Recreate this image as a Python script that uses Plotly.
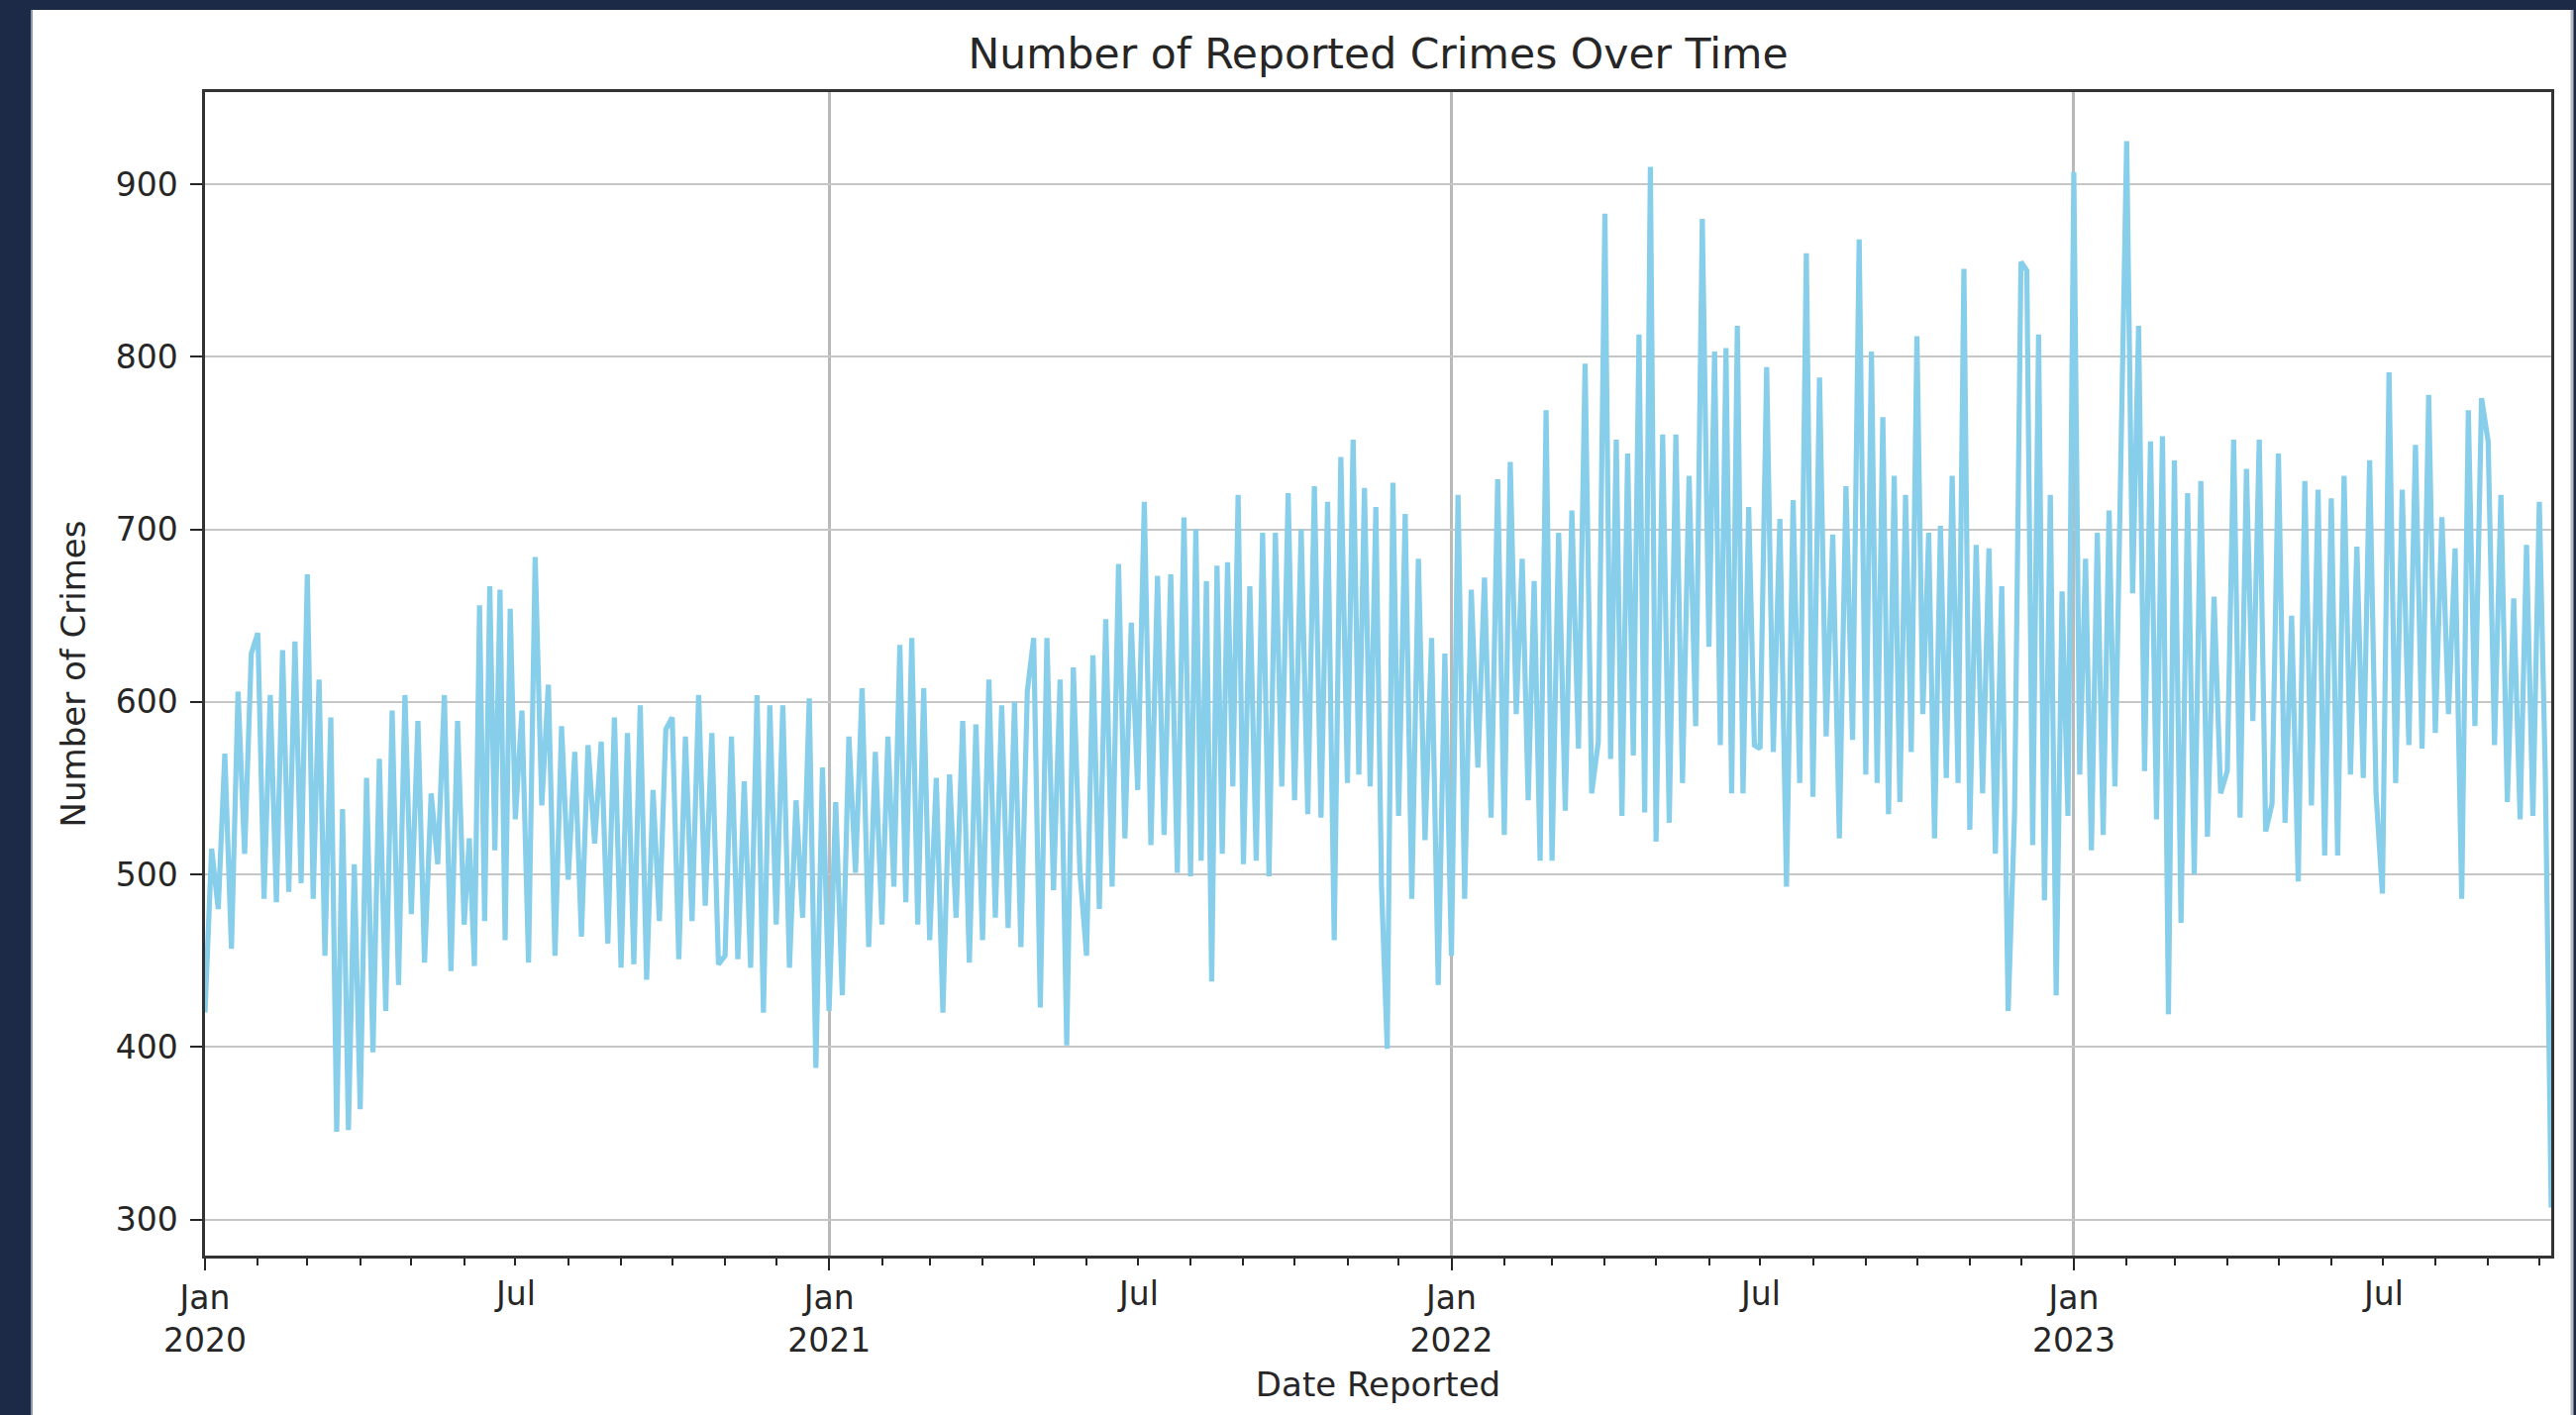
import pandas as pd
import plotly.graph_objects as go

# Daily reported crime counts, sampled several times per month (one inner list per month)
crimes_2020 = [
    [420, 515, 480, 570, 457, 606, 512, 628],
    [640, 486, 604, 484, 630, 490, 635, 495],
    [674, 486, 613, 453, 591, 351, 538, 352, 506],
    [364, 556, 397, 567, 421, 595, 436, 604],
    [477, 589, 449, 547, 506, 604, 444, 589],
    [471, 521, 447, 656, 473, 667, 514, 665, 462, 654],
    [532, 595, 449, 684, 540, 610, 453, 586],
    [497, 571, 464, 575, 518, 577, 460, 591],
    [446, 582, 448, 598, 439, 549, 473, 584],
    [591, 451, 580, 473, 604, 482, 582, 448],
    [453, 580, 451, 554, 446, 604, 420, 598],
    [471, 598, 446, 543, 475, 602, 388, 562],
]
crimes_2021 = [
    [421, 542, 430, 580, 501, 608, 458, 571],
    [471, 580, 493, 633, 484, 637, 471, 608],
    [462, 556, 420, 558, 475, 589, 449, 587],
    [462, 613, 475, 598, 469, 600, 458, 606],
    [637, 423, 637, 491, 613, 401, 620, 501],
    [453, 627, 480, 648, 493, 680, 521, 646],
    [549, 716, 517, 673, 523, 674, 501, 707],
    [499, 700, 508, 670, 438, 679, 512, 681, 551, 720],
    [506, 667, 508, 698, 499, 698, 551, 721],
    [543, 700, 535, 725, 533, 716, 462, 742],
    [553, 752, 558, 724, 551, 713, 493, 399, 727],
    [534, 709, 486, 683, 520, 637, 436, 628],
]
crimes_2022 = [
    [453, 720, 486, 665, 562, 672, 533, 729],
    [523, 739, 593, 683, 543, 670, 508, 769],
    [508, 698, 537, 711, 573, 796, 547, 577],
    [883, 567, 752, 534, 744, 569, 813, 536, 910],
    [519, 755, 530, 755, 553, 731, 586, 880],
    [632, 803, 575, 805, 547, 818, 547, 713, 575],
    [573, 794, 571, 706, 493, 717, 553, 860],
    [545, 788, 580, 697, 521, 725, 578, 868],
    [558, 803, 553, 765, 535, 731, 542, 720, 571],
    [812, 593, 698, 521, 702, 556, 731, 553, 851],
    [526, 691, 547, 689, 512, 667, 421, 535],
    [855, 850, 517, 813, 485, 720, 430, 664, 534],
]
crimes_2023 = [
    [907, 558, 683, 514, 698, 523, 711, 551, 755],
    [925, 663, 818, 560, 751, 532, 754, 419],
    [740, 472, 721, 500, 728, 522, 661, 547],
    [560, 752, 533, 735, 589, 752, 525, 541],
    [744, 530, 650, 496, 728, 540, 723, 511],
    [718, 511, 731, 558, 690, 556, 740, 547],
    [489, 791, 553, 723, 575, 749, 573, 778],
    [582, 707, 593, 689, 486, 769, 586, 776],
    [751, 575, 720, 542, 660, 532, 691, 534],
    [716, 560, 307],
]
years = [2020, 2021, 2022, 2023]
last_report = "2023-10-08"

year_ticks = ["2020-01-01", "2021-01-01", "2022-01-01", "2023-01-01"]
year_tick_text = ["Jan<br>2020", "Jan<br>2021", "Jan<br>2022", "Jan<br>2023"]
mid_ticks = ["2020-07-01", "2021-07-01", "2022-07-01", "2023-07-01"]
y_ticks = [300, 400, 500, 600, 700, 800, 900]

# Spread each month's samples evenly over that month
dates, counts = [], []
all_years = [crimes_2020, crimes_2021, crimes_2022, crimes_2023]
final_year = len(all_years) - 1
for yi, (year, months) in enumerate(zip(years, all_years)):
    for mi, vals in enumerate(months):
        start = pd.Timestamp(year, mi + 1, 1)
        is_last = yi == final_year and mi == len(months) - 1
        if is_last:
            stop = pd.Timestamp(last_report)
            step = (stop - start) / (len(vals) - 1)
        else:
            stop = start + pd.offsets.MonthBegin(1)
            step = (stop - start) / len(vals)
        for i, v in enumerate(vals):
            dates.append(start + i * step)
            counts.append(v)

FONT = "DejaVu Sans"
INK = "#262626"
W, H = 2601, 1429
L, R, T, B = 207, 2576, 93, 1268
pw, ph = R - L, B - T


def px_x(p):
    return (p - L) / pw


def px_y(p):
    return (B - p) / ph


fig = go.Figure()
fig.add_trace(go.Scatter(
    x=dates, y=counts, mode="lines",
    line=dict(color="#87CEEB", width=5.2),
    showlegend=False,
))

shapes = [
    # white figure panel on the navy page
    dict(type="rect", xref="paper", yref="paper", layer="below",
         x0=px_x(31), x1=px_x(2597), y0=px_y(1429), y1=px_y(10),
         fillcolor="white", line=dict(width=0)),
    dict(type="line", xref="paper", yref="paper", layer="below",
         x0=px_x(2597), x1=px_x(2597), y0=px_y(1429), y1=px_y(10),
         line=dict(color="#b9bcc4", width=3)),
    dict(type="line", xref="paper", yref="paper", layer="below",
         x0=px_x(32), x1=px_x(32), y0=px_y(1429), y1=px_y(10),
         line=dict(color="#8d97aa", width=2)),
]

annotations = [
    dict(x=d, y=px_y(1307), xref="x", yref="paper", text="Jul",
         showarrow=False, yanchor="middle", xanchor="center",
         font=dict(family=FONT, size=33, color=INK))
    for d in mid_ticks
]

fig.update_layout(
    width=W, height=H,
    margin=dict(l=L, r=W - R, t=T, b=H - B, pad=0),
    paper_bgcolor="#1c2a47",
    plot_bgcolor="white",
    font=dict(family=FONT, size=33, color=INK),
    title=dict(text="Number of Reported Crimes Over Time",
               x=(L + R) / 2 / W, xanchor="center",
               y=1 - 54 / H, yanchor="middle", yref="container", xref="container",
               font=dict(family=FONT, size=42.5, color=INK)),
    shapes=shapes,
    annotations=annotations,
)

fig.update_xaxes(
    type="date",
    range=[dates[0], dates[-1]],
    tickvals=year_ticks, ticktext=year_tick_text,
    ticks="outside", ticklen=12, tickwidth=2, tickcolor=INK,
    showgrid=True, gridcolor="#b9b9b9", gridwidth=2.5,
    minor=dict(dtick="M1", ticks="outside", ticklen=7, tickwidth=2,
               tickcolor=INK, showgrid=False),
    showline=True, mirror=True, linecolor="#333333", linewidth=2.5,
    zeroline=False,
    tickfont=dict(family=FONT, size=33, color=INK),
    title=dict(text="Date Reported", standoff=14,
               font=dict(family=FONT, size=34, color=INK)),
)
fig.update_yaxes(
    range=[279.2, 953.4],
    tickvals=y_ticks,
    ticks="outside", ticklen=12, tickwidth=2, tickcolor=INK,
    showgrid=True, gridcolor="#c6c6c6", gridwidth=2.2,
    showline=True, mirror=True, linecolor="#333333", linewidth=2.5,
    zeroline=False,
    ticklabelstandoff=6,
    tickfont=dict(family=FONT, size=33, color=INK),
    title=dict(text="Number of Crimes", standoff=20,
               font=dict(family=FONT, size=34, color=INK)),
)

fig.write_html("out.html")
